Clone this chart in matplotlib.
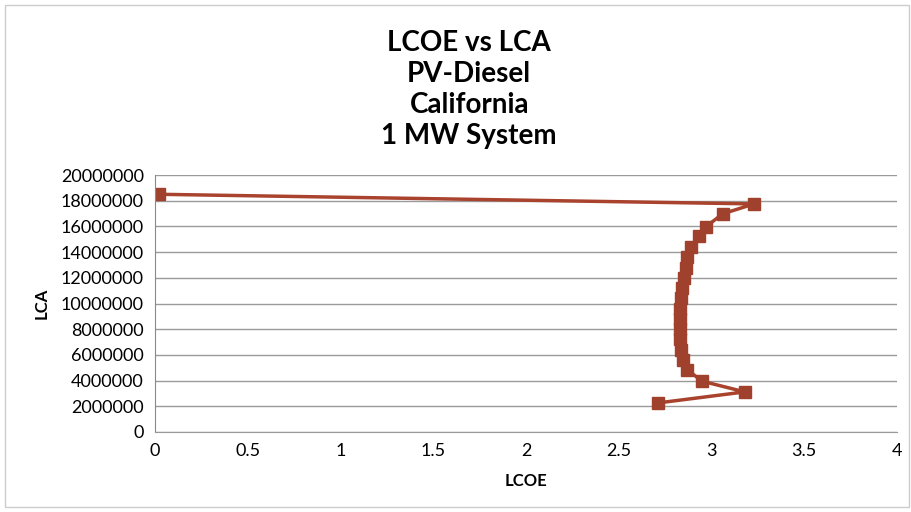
import numpy as np
import matplotlib.pyplot as plt
from matplotlib.patches import Rectangle

plt.rcParams['font.family'] = ['Lato', 'DejaVu Sans']

# Datos
lcoe = [0.02, 3.23, 3.06, 2.97, 2.93, 2.89, 2.87, 2.86, 2.85, 2.84, 2.835, 2.83,
        2.83, 2.83, 2.83, 2.835, 2.845, 2.87, 2.95, 3.18, 2.71]
lca = [18500000, 17750000, 16980000, 15970000, 15270000, 14410000, 13600000,
       12800000, 12000000, 11200000, 10400000, 9600000, 8800000, 8000000,
       7200000, 6400000, 5600000, 4830000, 3950000, 3120000, 2260000]
titulo = "LCOE vs LCA\nPV-Diesel\nCalifornia\n1 MW System"

fig = plt.figure(figsize=(9.11, 5.12), dpi=100)
ax = fig.add_axes([155/911, 1-432/512, (897-155)/911, (432-175)/512])

ax.plot(lcoe, lca, '-s', color='#A9432E', markerfacecolor='#A0412D',
        markeredgecolor='#A0412D', markersize=8, linewidth=2.5)

ax.set_xlim(0, 4)
ax.set_ylim(0, 20000000)
ax.set_xticks(np.arange(0, 4.01, 0.5))
ax.set_xticklabels(['0', '0.5', '1', '1.5', '2', '2.5', '3', '3.5', '4'])
ax.set_yticks(np.arange(0, 20000001, 2000000))
ax.set_yticklabels([str(v) for v in range(0, 20000001, 2000000)])
ax.tick_params(length=0, labelsize=13, pad=8)
ax.grid(axis='y', color='#9a9a9a', linewidth=1)
ax.set_axisbelow(True)
for s in ['top', 'right']:
    ax.spines[s].set_visible(False)
ax.spines['left'].set_color('#8a8a8a')
ax.spines['bottom'].set_color('#9a9a9a')

ax.set_xlabel("LCOE", fontsize=12, fontweight='bold', labelpad=10)
ax.set_ylabel("LCA", fontsize=12, fontweight='bold', labelpad=8)

fig.text(0.515, 1-30/512, titulo, ha='center', va='top', fontsize=20,
         fontweight='bold', linespacing=1.24)

# Marco del grafico
fig.patches.append(Rectangle((0.005, 0.01), 0.993, 0.98, transform=fig.transFigure,
                             fill=False, edgecolor='#cccccc', linewidth=1))

plt.savefig('out.png', dpi=100)
